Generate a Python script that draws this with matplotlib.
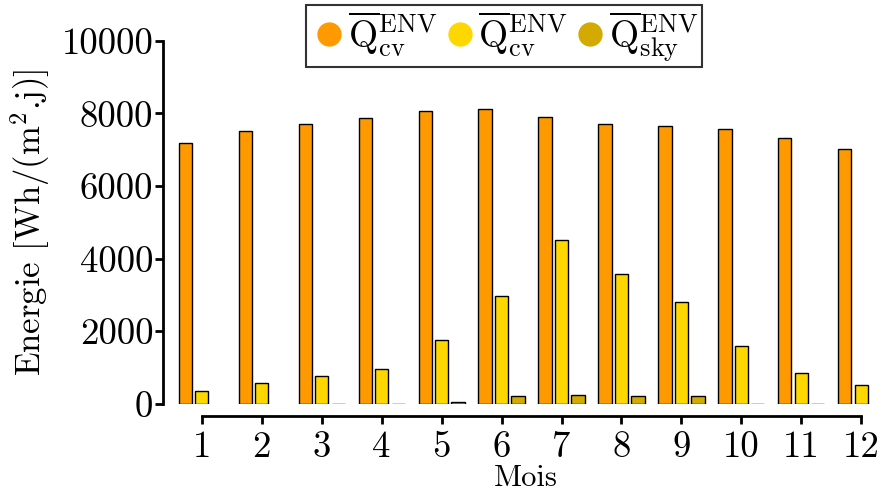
import matplotlib
matplotlib.use("Agg")
import matplotlib.pyplot as plt
import numpy as np
from matplotlib.lines import Line2D

plt.rcParams['font.family'] = 'serif'
plt.rcParams['font.serif'] = ['cmr10', 'DejaVu Serif']
plt.rcParams['mathtext.fontset'] = 'cm'
plt.rcParams['axes.formatter.use_mathtext'] = True

# monthly mean energy values, Wh/(m2.j)
months = np.arange(1, 13)
q_cv_orange = [7200, 7530, 7705, 7870, 8065, 8125, 7905, 7715, 7655, 7575, 7330, 7025]
q_cv_yellow = [345, 570, 765, 955, 1755, 2975, 4520, 3580, 2810, 1600, 860, 515]
q_sky = [np.nan, np.nan, 10, 10, 55, 220, 240, 212, 220, 10, 10, np.nan]

series = [q_cv_orange, q_cv_yellow, q_sky]
colors = ['#ff9900', '#ffd700', '#d4a900']
labels = [r'$\overline{\mathrm{Q}}^{\mathrm{ENV}}_{\mathrm{cv}}$',
          r'$\overline{\mathrm{Q}}^{\mathrm{ENV}}_{\mathrm{cv}}$',
          r'$\overline{\mathrm{Q}}^{\mathrm{ENV}}_{\mathrm{sky}}$']

fig = plt.figure(figsize=(8.91, 4.92), dpi=100)
ax = fig.add_axes([0.183, 0.179, 0.814, 0.738])

width = 0.22
offsets = [-0.275, 0.0, 0.275]
for vals, col, off in zip(series, colors, offsets):
    ax.bar(months + off, vals, width=width, color=col, edgecolor='black', linewidth=1.0)

ax.set_xlim(0.355, 12.45)
ax.set_ylim(0, 10000)
ax.set_xticks(months)
ax.set_xticklabels([str(m) for m in months])
ax.set_yticks([0, 2000, 4000, 6000, 8000, 10000])
ax.set_yticklabels(['0', '2000', '4000', '6000', '8000', '10000'])

for s in ['top', 'right']:
    ax.spines[s].set_visible(False)
ax.spines['left'].set_linewidth(2)
ax.spines['bottom'].set_linewidth(2)
ax.spines['bottom'].set_position(('outward', 9))
ax.spines['bottom'].set_bounds(1, 12)
ax.tick_params(axis='both', direction='out', length=6, width=2, labelsize=26.5, pad=1)
ax.tick_params(axis='x', pad=4)

ax.set_ylabel(r'Energie [Wh/(m$^{2}$.j)]', fontsize=25, labelpad=7)
ax.set_xlabel('Mois', fontsize=22, labelpad=1)

handles = [Line2D([], [], marker='o', linestyle='none', markersize=16.5,
                  markerfacecolor=c, markeredgecolor=c) for c in colors]
leg = fig.legend(handles, labels, loc='upper center', bbox_to_anchor=(0.566, 0.99),
                 ncol=3, fontsize=27, frameon=True, fancybox=False,
                 handletextpad=0.0, columnspacing=0.1, borderpad=0.1,
                 handlelength=1.0, borderaxespad=0)
leg.get_frame().set_edgecolor('black')
leg.get_frame().set_linewidth(1.5)

fig.savefig('out.png', dpi=100)
